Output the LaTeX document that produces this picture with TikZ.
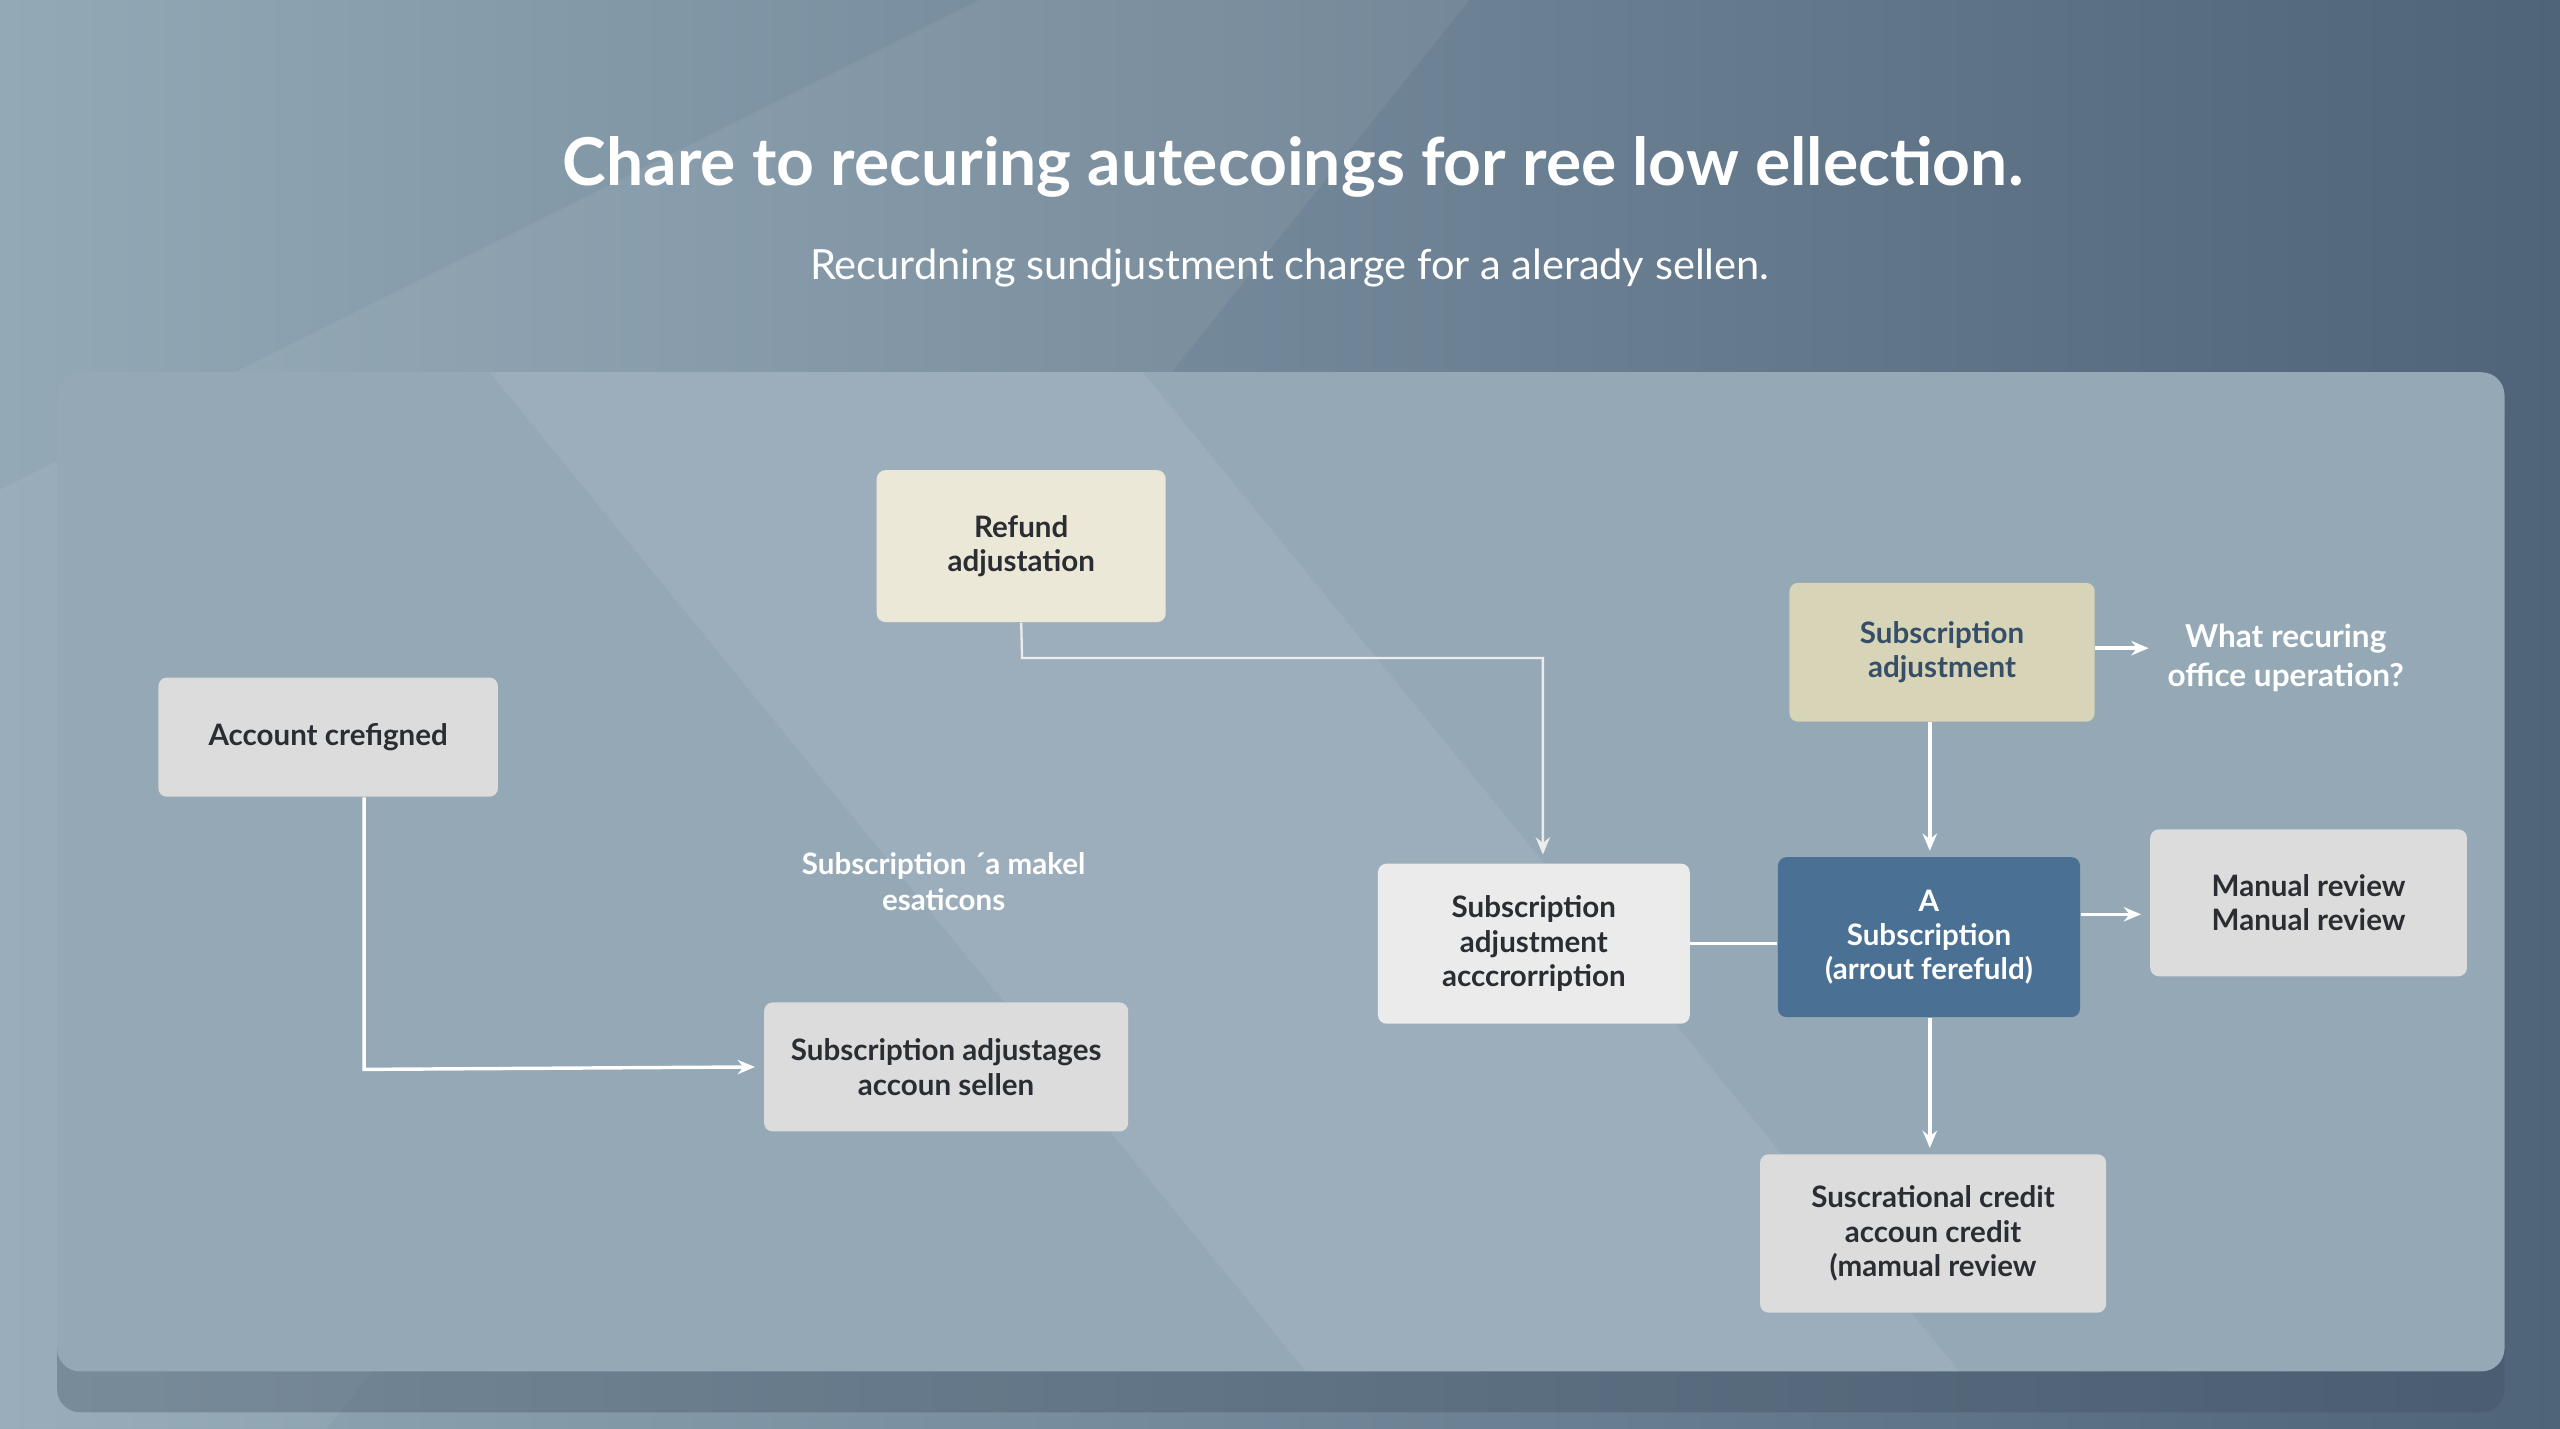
\documentclass[tikz,border=0pt]{standalone}
\usepackage{fontspec}
\setmainfont{Lato}
\usetikzlibrary{arrows.meta}
\definecolor{bgA}{HTML}{93A9B6}
\definecolor{bgB}{HTML}{4F6379}
\definecolor{panel}{HTML}{94A8B6}
\definecolor{boxg}{HTML}{DCDCDC}
\definecolor{boxw}{HTML}{EBEBEB}
\definecolor{boxy}{HTML}{ECE8D8}
\definecolor{boxk}{HTML}{D8D4B8}
\definecolor{boxb}{HTML}{4A7193}
\definecolor{txt}{HTML}{2A2E33}
\begin{document}
\begin{tikzpicture}[x=0.02cm,y=-0.02cm,
 sz/.style 2 args={minimum width=#1*0.02cm,minimum height=#2*0.02cm},
 box/.style={draw=none,rounded corners=3pt,inner sep=0pt,align=center,font=\bfseries\fontsize{10.3}{12}\selectfont,text=txt},
 lbl/.style={align=center,text=white,font=\bfseries\fontsize{10.3}{12.5}\selectfont},
 con/.style={draw=white,line width=1.2pt,-{Stealth[length=6pt,width=5pt]}},
 thin/.style={draw=white!85!gray,line width=0.8pt,-{Stealth[length=6pt,width=5pt]}}]
\useasboundingbox (0,0) rectangle (1568,875);
\shade[left color=bgA,right color=bgB] (0,0) rectangle (1568,875);
\fill[white,opacity=0.06] (0,300) -- (600,0) -- (900,0) -- (200,875) -- (0,875) -- cycle;
\fill[bgB!80!black,opacity=0.35,rounded corners=8pt] (35,240) rectangle (1534,865);
\fill[panel,rounded corners=8pt] (35,228) rectangle (1534,840);
\fill[white,opacity=0.08] (300,228) -- (700,228) -- (1200,840) -- (800,840) -- cycle;
\node[text=white,font=\bfseries\fontsize{23}{26}\selectfont] (title) at (792,102) {Chare to recuring autecoings for ree low ellection.};
\node[text=white,font=\fontsize{14.5}{17}\selectfont] (sub) at (790,164) {Recurdning sundjustment charge for a alerady sellen.};

\node[box,fill=boxy,sz={177}{93}] (refund) at (625.5,334.5) {Refund\\adjustation};
\node[box,fill=boxg,sz={208}{73}] (acct) at (201,451.5) {Account crefigned};
\node[lbl] (mid) at (578,540) {Subscription ´a makel\\esaticons};
\node[box,fill=boxg,sz={223}{79}] (sell) at (579.5,653.5) {Subscription adjustages\\accoun sellen};
\node[box,fill=boxw,sz={191}{98}] (accr) at (939.5,578) {Subscription\\adjustment\\acccrorription};
\node[box,fill=boxk,text=boxb!70!black,sz={187}{85}] (sadj) at (1189.5,399.5) {Subscription\\adjustment};
\node[lbl,font=\bfseries\fontsize{11}{13.5}\selectfont] (what) at (1400,403) {What recuring\\office uperation?};
\node[box,fill=boxb,text=white,sz={185}{98}] (A) at (1181.5,574) {A\\Subscription\\(arrout ferefuld)};
\node[box,fill=boxg,sz={194}{90}] (man) at (1414,553) {Manual review\\Manual review};
\node[box,fill=boxg,sz={212}{97}] (cred) at (1184,755.5) {Suscrational credit\\accoun credit\\(mamual review};

\draw[con] (acct.south -| 223,0) -- (223,655) -- ([xshift=-3pt]sell.west);
\draw[thin] (refund.south) -- (626,403) -- (945,403) -- ([yshift=3pt]accr.north -| 945,0);
\draw[white,line width=1.2pt] (accr.east) -- (A.west |- accr.east);
\draw[con] (sadj.south -| 1182,0) -- ([yshift=2pt]A.north -| 1182,0);
\draw[con] (A.east |- 0,560) -- ([xshift=-3pt]man.west |- 0,560);
\draw[con] (A.south -| 1182,0) -- ([yshift=2pt]cred.north -| 1182,0);
\draw[con] (sadj.east |- 0,397) -- (1316,397);
\end{tikzpicture}
\end{document}
